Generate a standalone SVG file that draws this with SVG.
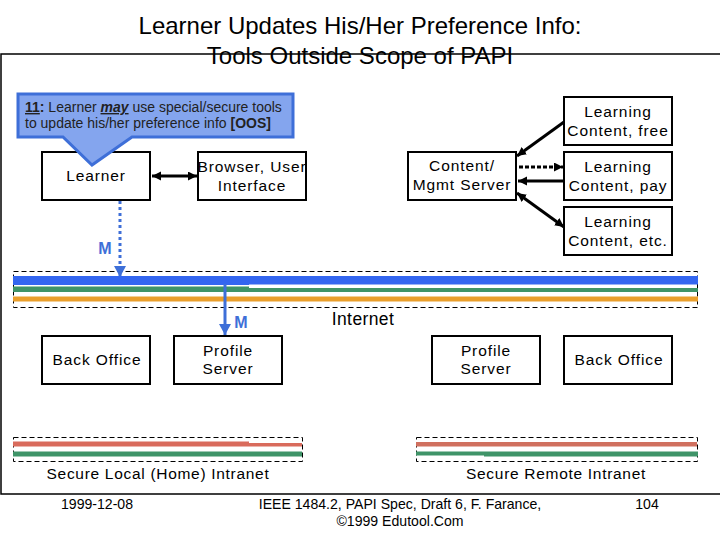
<svg xmlns="http://www.w3.org/2000/svg" width="720" height="540" viewBox="0 0 720 540">
<style>
text{font-family:"Liberation Sans",Arial,sans-serif;fill:#000;text-anchor:middle;font-size:15.5px;letter-spacing:.9px}
.box{fill:#fff;stroke:#000;stroke-width:2}
.t{font-size:24px;letter-spacing:0}
.f{font-size:14.1px;letter-spacing:0}
.c{font-size:14px;letter-spacing:0;text-anchor:start;fill:#222}
.dash{fill:none;stroke:#000;stroke-width:1;stroke-dasharray:5 3}
.m{fill:#3e6fd8;font-weight:bold;font-size:16px;letter-spacing:0}
.n{letter-spacing:.7px}
.i{font-size:17.5px;letter-spacing:.4px}
.k{stroke:#000;stroke-width:3;fill:none}
.b{stroke:#3e6fd8;stroke-width:3;fill:none}
</style>
<defs>
<marker id="ae" markerUnits="userSpaceOnUse" markerWidth="10" markerHeight="10" refX="9" refY="4.500" orient="auto-start-reverse"><path d="M0 0L9 4.500L0 9z" fill="#000"/></marker>
<marker id="ab" markerUnits="userSpaceOnUse" markerWidth="12" markerHeight="14" refX="11" refY="6" orient="auto"><path d="M0 0L11 6L0 12z" fill="#3e6fd8"/></marker>
</defs>
<rect width="720" height="540" fill="#fff"/>
<text class="t" x="360" y="34">Learner Updates His/Her Preference Info:</text>
<text class="t" x="360" y="64">Tools Outside Scope of PAPI</text>
<path d="M720 54H1V494H720" fill="none" stroke="#000" stroke-width="1.500"/>
<g id="bus-internet">
<rect class="dash" x="13.500" y="271.500" width="684" height="36"/>
<path d="M13 276H698V284.500H249V285H13z" fill="#3366f0"/>
<path d="M13 286.500H249V288H698V292H13z" fill="#3f9468"/>
<rect x="13" y="296.500" width="685" height="5" fill="#ea9f2c"/>
</g>
<g id="bus-local">
<rect class="dash" x="13.500" y="437.500" width="289" height="24"/>
<path d="M13 441.500H249V443H302V446.500H13z" fill="#d96b5c"/>
<rect x="13" y="451.500" width="289" height="5" fill="#3f9468"/>
</g>
<g id="bus-remote">
<rect class="dash" x="416.500" y="437.500" width="281" height="24"/>
<rect x="416" y="442" width="281" height="4.500" fill="#d0705f"/>
<path d="M416 451.500H698V456.500H484V455.500H416z" fill="#3f9468"/>
</g>
<g id="connectors">
<path class="k" d="M152 176H197" marker-start="url(#ae)" marker-end="url(#ae)"/>
<path class="k" d="M564 122L517 156" marker-end="url(#ae)"/>
<path class="k" d="M519 167H563" stroke-dasharray="4 2" marker-end="url(#ae)"/>
<path class="k" d="M564 181H518" marker-end="url(#ae)"/>
<path class="k" d="M517 193L564 227" marker-start="url(#ae)" marker-end="url(#ae)"/>
<path class="b" d="M120 201V277" stroke-dasharray="3 3" marker-end="url(#ab)"/>
<path class="b" d="M225 284V335" stroke-width="4" marker-end="url(#ab)"/>
</g>
<g id="learner"><rect class="box" x="42" y="152" width="108" height="48"/><text x="96" y="181">Learner</text></g>
<g id="browser"><rect class="box" x="198" y="152" width="108" height="48"/><text x="252" y="172">Browser, User</text><text x="252" y="191">Interface</text></g>
<g id="content-server"><rect class="box" x="408" y="152" width="108" height="48"/><text x="462" y="171">Content/</text><text x="462" y="190">Mgmt Server</text></g>
<g id="content-free"><rect class="box" x="564" y="97" width="108" height="48"/><text x="618" y="117">Learning</text><text x="618" y="136">Content, free</text></g>
<g id="content-pay"><rect class="box" x="564" y="152" width="108" height="48"/><text x="618" y="172">Learning</text><text x="618" y="191">Content, pay</text></g>
<g id="content-etc"><rect class="box" x="564" y="207" width="108" height="48"/><text x="618" y="227">Learning</text><text x="618" y="246">Content, etc.</text></g>
<g id="back-office-local"><rect class="box" x="42" y="336" width="108" height="48"/><text x="97" y="365">Back Office</text></g>
<g id="profile-local"><rect class="box" x="174" y="336" width="108" height="48"/><text x="228" y="356">Profile</text><text x="228" y="374">Server</text></g>
<g id="profile-remote"><rect class="box" x="432" y="336" width="108" height="48"/><text x="486" y="356">Profile</text><text x="486" y="374">Server</text></g>
<g id="back-office-remote"><rect class="box" x="564" y="336" width="108" height="48"/><text x="619" y="365">Back Office</text></g>
<g id="callout">
<path d="M18 94H293V137H132L92 165L63 137H18z" fill="#84a5ee" stroke="#3e6fd8" stroke-width="3"/>
<text class="c" x="25" y="112"><tspan font-weight="bold" text-decoration="underline">11</tspan><tspan font-weight="bold">:</tspan> Learner <tspan font-weight="bold" font-style="italic" text-decoration="underline">may</tspan> use special/secure tools</text>
<text class="c" x="25" y="128">to update his/her preference info <tspan font-weight="bold">[OOS]</tspan></text>
</g>
<text class="m" x="105" y="254">M</text>
<text class="m" x="241" y="328">M</text>
<text class="i" x="363" y="325">Internet</text>
<text class="n" x="158" y="479">Secure Local (Home) Intranet</text>
<text class="n" x="556" y="479">Secure Remote Intranet</text>
<text class="f" x="97" y="509">1999-12-08</text>
<text class="f" x="400" y="509">IEEE 1484.2, PAPI Spec, Draft 6, F. Farance,</text>
<text class="f" x="400" y="526">©1999 Edutool.Com</text>
<text class="f" x="647" y="509">104</text>
</svg>
